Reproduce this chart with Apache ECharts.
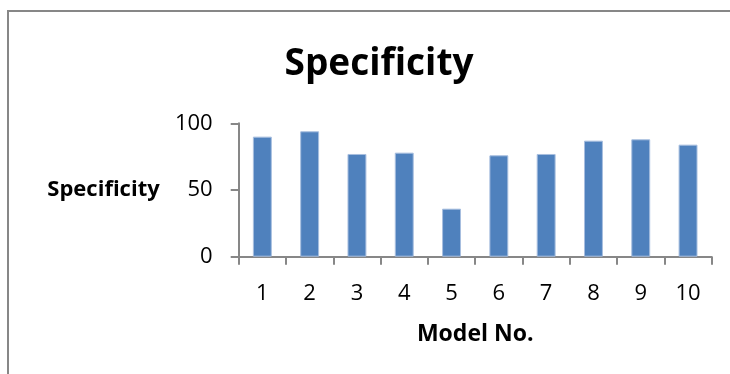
<!DOCTYPE html>
<html>
<head>
<meta charset="utf-8">
<script src="https://cdn.jsdelivr.net/npm/echarts@6/dist/echarts.min.js"></script>
<style>
  html, body { margin: 0; padding: 0; background: #fff; }
  #chart { width: 730px; height: 374px; }
</style>
</head>
<body>
<div id="chart"></div>
<script>
// Model numbers along the x axis
const models = ['1', '2', '3', '4', '5', '6', '7', '8', '9', '10'];
// Specificity (%) for each model
const specificity = [90, 94, 77, 78, 36, 76, 77, 87, 88, 84];
// Value axis ticks
const yTicks = [0, 50, 100];

const chart = echarts.init(document.getElementById('chart'), null, { renderer: 'canvas' });

const axisGray = '#878787';
const font = '"Open Sans", "Noto Sans", sans-serif';

chart.setOption({
  animation: false,
  backgroundColor: '#ffffff',
  title: {
    text: 'Specificity',
    left: 374,
    top: 41,
    textAlign: 'center',
    textStyle: { fontFamily: font, fontWeight: 'bold', fontSize: 37, color: '#000' }
  },
  graphic: [{
    type: 'rect',
    shape: { x: 8, y: 11, width: 760, height: 420 },
    style: { fill: 'none', stroke: axisGray, lineWidth: 2 },
    silent: true
  }],
  grid: { left: 238.7, right: 730 - 711.7, top: 123.3, bottom: 374 - 256.7 },
  xAxis: {
    type: 'category',
    data: models,
    name: 'Model No.',
    nameLocation: 'middle',
    nameGap: 66,
    nameTextStyle: { fontFamily: font, fontWeight: 'bold', fontSize: 23, color: '#000', verticalAlign: 'top' },
    axisLine: { lineStyle: { color: axisGray, width: 2 } },
    axisTick: { show: true, length: 8, alignWithLabel: false, lineStyle: { color: axisGray, width: 2 } },
    axisLabel: { fontFamily: font, fontSize: 22, color: '#000', margin: 26 }
  },
  yAxis: {
    type: 'value',
    min: yTicks[0],
    max: yTicks[yTicks.length - 1],
    interval: yTicks[1] - yTicks[0],
    name: 'Specificity',
    nameLocation: 'middle',
    nameRotate: 0,
    nameGap: 79,
    nameTextStyle: { fontFamily: font, fontWeight: 'bold', fontSize: 22, color: '#000', align: 'right', verticalAlign: 'middle' },
    splitLine: { show: false },
    axisLine: { show: true, lineStyle: { color: axisGray, width: 2 } },
    axisTick: { show: true, length: 8, lineStyle: { color: axisGray, width: 2 } },
    axisLabel: { fontFamily: font, fontSize: 22, color: '#000', margin: 26 }
  },
  series: [{
    type: 'bar',
    data: specificity,
    barWidth: '40%',
    itemStyle: { color: '#4f81bd', borderColor: '#a7bedf', borderWidth: 1 }
  }]
});
</script>
</body>
</html>
